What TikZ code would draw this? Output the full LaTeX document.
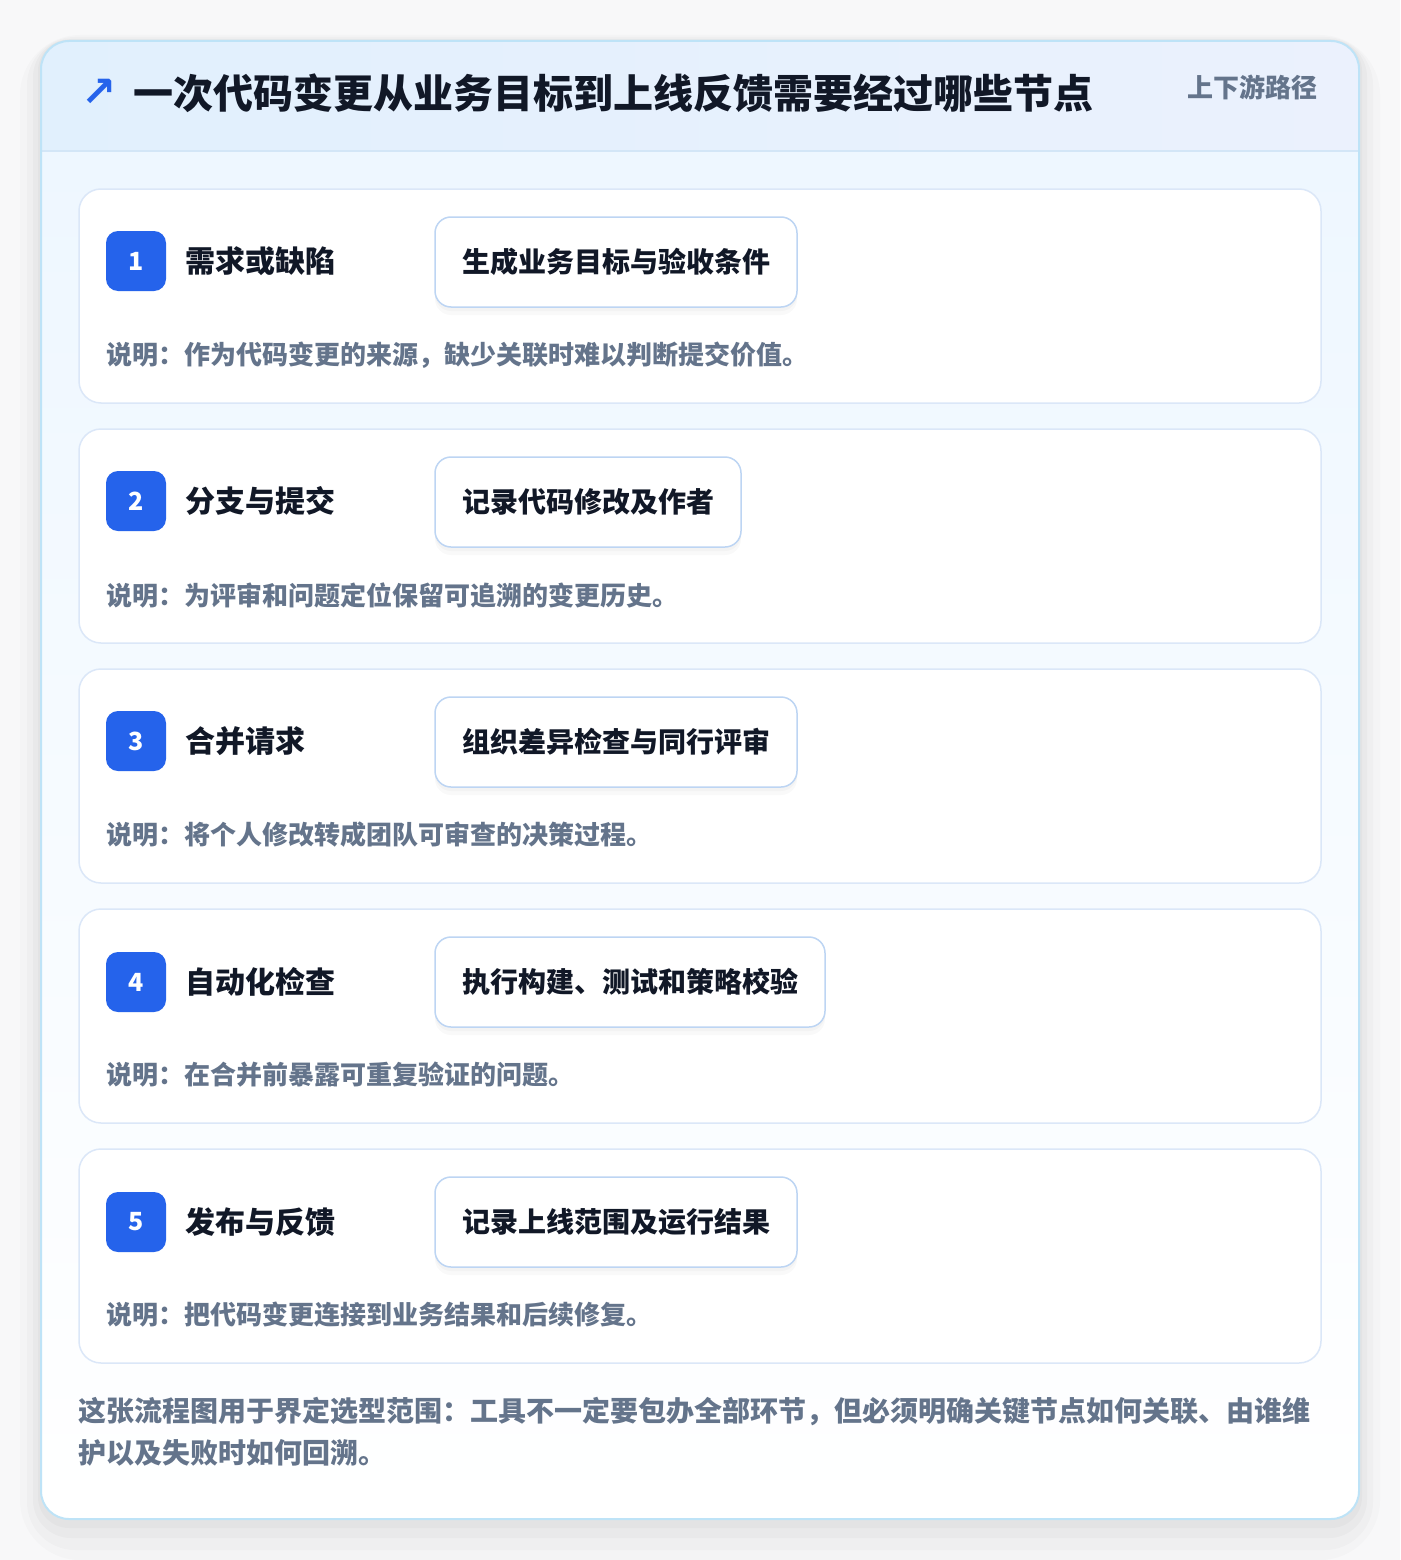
\documentclass[tikz,border=0pt]{standalone}
\usepackage{fontspec}
\setmainfont{Noto Sans CJK SC}
\newfontfamily\symfont{DejaVu Sans}
\usepackage{tikz}
\usetikzlibrary{calc,positioning}
\definecolor{PageBg}{HTML}{F8F8F9}
\definecolor{SheetLine}{HTML}{BEE3F7}
\definecolor{HeadLeft}{HTML}{E1F0FD}
\definecolor{HeadRight}{HTML}{EBF1FD}
\definecolor{HeadLine}{HTML}{D3E6F7}
\definecolor{BodyTop}{HTML}{EEF7FF}
\definecolor{CardLine}{HTML}{DBE7F8}
\definecolor{BoxLine}{HTML}{BDD5F3}
\definecolor{Blue}{HTML}{2563EB}
\definecolor{Ink}{HTML}{111827}
\definecolor{Gray}{HTML}{64748B}
\tikzset{
  card/.style={rectangle, rounded corners=22pt, draw=CardLine, line width=1.5pt, fill=white, minimum width=1242pt, minimum height=214pt, inner sep=0pt, outer sep=0pt},
  badge/.style={rectangle, rounded corners=12pt, fill=Blue, text=white, minimum size=60pt, inner sep=0pt, font=\fontsize{25}{28}\selectfont\bfseries},
  steptitle/.style={anchor=west, inner sep=0pt, text=Ink, font=\fontsize{30}{34}\selectfont\bfseries},
  outbox/.style={rectangle, rounded corners=16pt, draw=BoxLine, line width=1.5pt, fill=white, anchor=west, minimum height=90pt, inner xsep=27pt, inner ysep=0pt, outer sep=0pt, text=Ink, font=\fontsize{28}{32}\selectfont\bfseries,
    preaction={fill=black, opacity=0.025, transform canvas={yshift=-8pt}},
    preaction={fill=black, opacity=0.025, transform canvas={yshift=-4pt}}},
  desc/.style={anchor=west, inner sep=0pt, text=Gray, font=\fontsize{26}{30}\selectfont\bfseries},
  note/.style={anchor=north west, inner sep=0pt, align=left, text=Gray, font=\fontsize{28}{42}\selectfont\bfseries}
}

\begin{document}
\begin{tikzpicture}[x=1pt, y=1pt]
    \useasboundingbox (0,0) rectangle (1400,-1560);
    \fill [PageBg] (0,0) rectangle (1400,-1560);
    % shadow of the sheet
    \fill [black, opacity=0.015, rounded corners=60pt] (20,-35) rectangle (1380,-1560);
    \fill [black, opacity=0.02, rounded corners=48pt] (27,-37) rectangle (1373,-1550);
    \fill [black, opacity=0.025, rounded corners=38pt] (33,-39) rectangle (1367,-1538);
    \fill [black, opacity=0.025, rounded corners=31pt] (38,-40) rectangle (1362,-1528);
    % sheet with header
    \begin{scope}
        \clip [rounded corners=28pt] (41,-41) rectangle (1359,-1519);
        \shade [left color=HeadLeft, right color=HeadRight] (41,-41) rectangle (1359,-151);
        \shade [top color=BodyTop, bottom color=white] (41,-151) rectangle (1359,-1519);
    \end{scope}
    \draw [HeadLine, line width=1.5pt] (41,-151) -- (1359,-151);
    \draw [SheetLine, line width=2pt, rounded corners=28pt] (41,-41) rectangle (1359,-1519);
    \node [inner sep=0pt, text=Blue, font=\symfont\fontsize{42}{46}\selectfont\bfseries] (arrow) at (99,-93) {↗};
    \node [anchor=west, inner sep=0pt, text=Ink, font=\fontsize{40}{46}\selectfont\bfseries] (title) at (133,-93) {一次代码变更从业务目标到上线反馈需要经过哪些节点};
    \node [anchor=east, inner sep=0pt, text=Gray, font=\fontsize{26}{30}\selectfont\bfseries] (path) at (1318,-87) {上下游路径};
    % step 1
    \node [card] (card1) at (700,-296) {};
    \node [badge] (num1) at ($(card1.north west)+(57,-72)$) {1};
    \node [steptitle, right=19pt of num1] (name1) {需求或缺陷};
    \node [outbox] (out1) at ($(card1.north west)+(356,-73)$) {生成业务目标与验收条件};
    \node [desc] (desc1) at ($(card1.north west)+(27,-166)$) {说明：作为代码变更的来源，缺少关联时难以判断提交价值。};
    % step 2
    \node [card, below=26pt of card1] (card2) {};
    \node [badge] (num2) at ($(card2.north west)+(57,-72)$) {2};
    \node [steptitle, right=19pt of num2] (name2) {分支与提交};
    \node [outbox] (out2) at ($(card2.north west)+(356,-73)$) {记录代码修改及作者};
    \node [desc] (desc2) at ($(card2.north west)+(27,-166)$) {说明：为评审和问题定位保留可追溯的变更历史。};
    % step 3
    \node [card, below=26pt of card2] (card3) {};
    \node [badge] (num3) at ($(card3.north west)+(57,-72)$) {3};
    \node [steptitle, right=19pt of num3] (name3) {合并请求};
    \node [outbox] (out3) at ($(card3.north west)+(356,-73)$) {组织差异检查与同行评审};
    \node [desc] (desc3) at ($(card3.north west)+(27,-166)$) {说明：将个人修改转成团队可审查的决策过程。};
    % step 4
    \node [card, below=26pt of card3] (card4) {};
    \node [badge] (num4) at ($(card4.north west)+(57,-73)$) {4};
    \node [steptitle, right=19pt of num4] (name4) {自动化检查};
    \node [outbox] (out4) at ($(card4.north west)+(356,-73)$) {执行构建、测试和策略校验};
    \node [desc] (desc4) at ($(card4.north west)+(27,-166)$) {说明：在合并前暴露可重复验证的问题。};
    % step 5
    \node [card, below=26pt of card4] (card5) {};
    \node [badge] (num5) at ($(card5.north west)+(57,-73)$) {5};
    \node [steptitle, right=19pt of num5] (name5) {发布与反馈};
    \node [outbox] (out5) at ($(card5.north west)+(356,-73)$) {记录上线范围及运行结果};
    \node [desc] (desc5) at ($(card5.north west)+(27,-166)$) {说明：把代码变更连接到业务结果和后续修复。};
    % closing note
    \node [note] (note) at (78,-1397) {这张流程图用于界定选型范围：工具不一定要包办全部环节，但必须明确关键节点如何关联、由谁维\\护以及失败时如何回溯。};
\end{tikzpicture}
\end{document}
